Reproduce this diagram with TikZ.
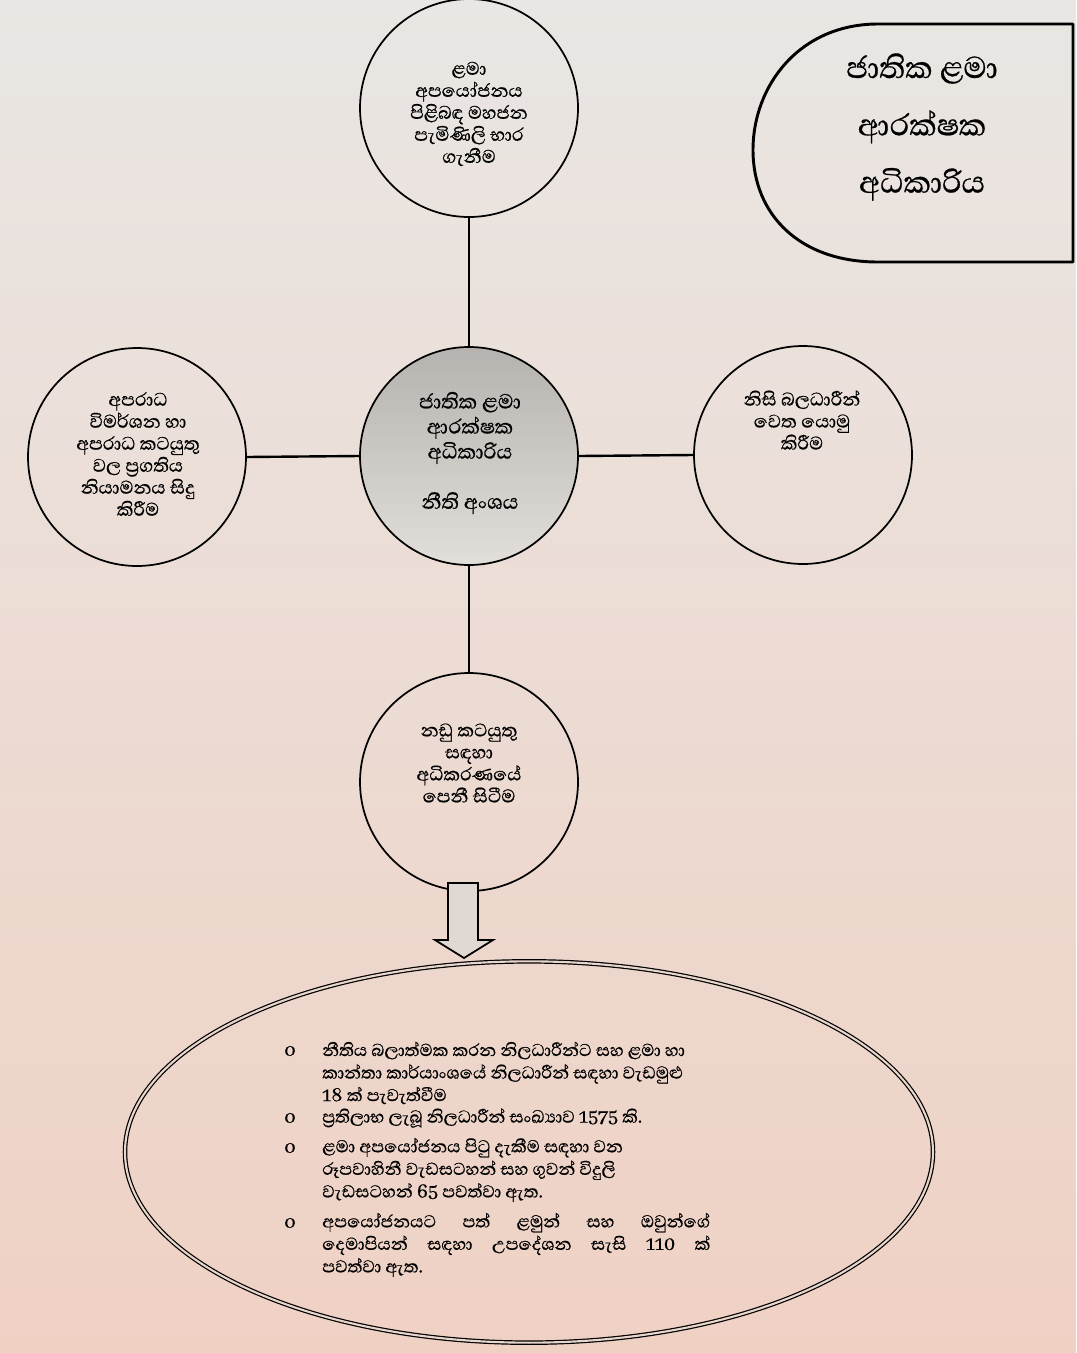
\documentclass[tikz,border=0pt]{standalone}
\usepackage{fontspec}
\setmainfont[Script=Sinhala,FakeBold=0.6]{Abhaya Libre}
\usetikzlibrary{shapes.geometric}
\definecolor{bgtop}{HTML}{E9E6E3}
\definecolor{bgmid}{HTML}{DEDAD5}
\definecolor{bgbot}{HTML}{EFD1C4}
\definecolor{ctrtop}{HTML}{B6B2AF}
\definecolor{ctrbot}{HTML}{E2DED9}
\definecolor{arrowfill}{HTML}{E0D9D3}
\begin{document}
\begin{tikzpicture}[x=0.75pt,y=-0.75pt,
  circ/.style={circle,draw=black,line width=1.3pt,minimum size=163.5pt,inner sep=0pt},
  ctext/.style={align=center,font=\fontsize{17.5}{16.5}\selectfont,inner sep=0pt},
  conn/.style={line width=1.8pt,draw=black},
  etext/.style={align=left,anchor=west,font=\fontsize{16.5}{16.9}\selectfont,inner sep=0pt},
  bul/.style={font=\fontsize{17}{16}\selectfont,inner sep=0pt}]
\shade[top color=bgtop,middle color=bgmid,bottom color=bgbot] (0,0) rectangle (1076,1353);
\useasboundingbox (0,0) rectangle (1076,1353);

% top-right title shape
\draw[line width=2.2pt,line join=round] (1073,24) -- (1073,262) -- (878,262)
  .. controls (800,262) and (753,215) .. (753,150)
  .. controls (753,85) and (800,24) .. (878,24) -- cycle;
\node[align=center,font=\fontsize{29}{43}\selectfont,inner sep=0pt] (title) at (922,127)
  {ජාතික ළමා\\ආරක්ෂක\\අධිකාරිය};

% circles
\node[circ] (top) at (469,108) {};
\node[circ,top color=ctrtop,bottom color=ctrbot] (ctr) at (469,456) {};
\node[circ] (lft) at (137,457) {};
\node[circ] (rgt) at (803,455) {};
\node[circ] (bot) at (469,782) {};

% connectors
\draw[conn] (top.south) -- (ctr.north);
\draw[conn] (ctr.south) -- (bot.north);
\draw[conn] (ctr.west) -- (lft.east);
\draw[conn] (ctr.east) -- (rgt.west);

% circle texts
\node[ctext] (ttop) at (469,114) {ළමා\\අපයෝජනය\\පිළිබඳ මහජන\\පැමිණිලි භාර\\ගැනීම};
\node[ctext,font=\fontsize{19.5}{18.8}\selectfont] (tctr) at (470,453) {ජාතික ළමා\\ආරක්ෂක\\අධිකාරිය\\[18.8pt]නීති අංශය};
\node[ctext] (tlft) at (138,454) {අපරාධ\\විමර්ශන හා\\අපරාධ කටයුතු\\වල ප්‍රගතිය\\නියාමනය සිදු\\කිරීම};
\node[ctext] (trgt) at (802,420) {නිසි බලධාරීන්\\වෙත යොමු\\කිරීම};
\node[ctext] (tbot) at (469,763) {නඩු කටයුතු\\සඳහා\\අධිකරණයේ\\පෙනී සිටීම};

% block arrow
\filldraw[fill=arrowfill,draw=black,line width=1.3pt,line join=miter]
  (448,883) -- (478,883) -- (478,940) -- (493,940) -- (464,958) -- (435,940) -- (448,940) -- cycle;

% ellipse
\node[ellipse,draw=black,double=bgbot!60!bgmid,double distance=1.6pt,line width=0.9pt,
  minimum width=606pt,minimum height=286pt,inner sep=0pt] (ell) at (529,1152) {};

% bullets
\node[bul] (o1) at (290,1051) {o};
\node[bul] (o2) at (290,1118) {o};
\node[bul] (o3) at (290,1148) {o};
\node[bul] (o4) at (290,1223) {o};
\node[etext] (e1) at (322,1073) {නීතිය බලාත්මක කරන නිලධාරීන්ට සහ ළමා හා\\කාන්තා කාර්යාංශයේ නිලධාරීන් සඳහා වැඩමුළු\\18 ක් පැවැත්වීම};
\node[etext] (e2) at (322,1118) {ප්‍රතිලාභ ලැබූ නිලධාරීන් සංඛ්‍යාව 1575 කි.};
\node[etext] (e3) at (322,1170) {ළමා අපයෝජනය පිටු දැකීම සඳහා වන\\රූපවාහිනී වැඩසටහන්  සහ ගුවන් විදුලි\\වැඩසටහන් 65 පවත්වා ඇත.};
\node[etext] (e4) at (322,1245) {\makebox[291pt][s]{අපයෝජනයට පත් ළමුන් සහ ඔවුන්ගේ}\\\makebox[291pt][s]{දෙමාපියන් සඳහා උපදේශන සැසි 110 ක්}\\පවත්වා ඇත.};
\end{tikzpicture}
\end{document}
